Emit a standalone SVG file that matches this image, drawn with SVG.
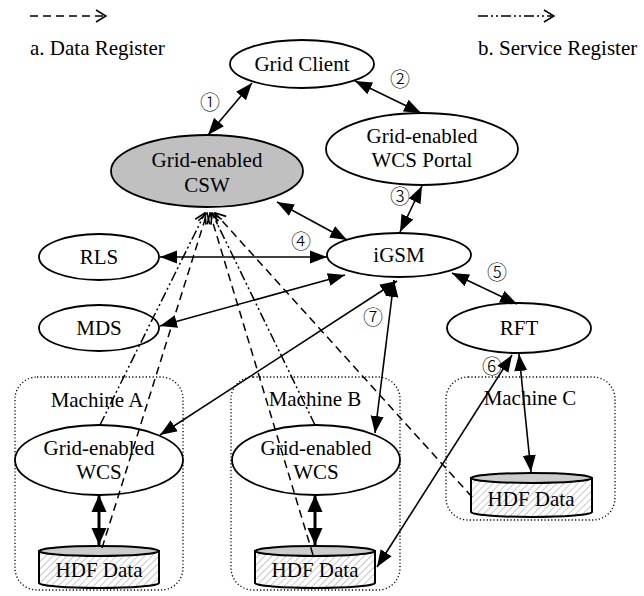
<svg xmlns="http://www.w3.org/2000/svg" width="644" height="596" viewBox="0 0 644 596" font-family="'Liberation Serif', 'DejaVu Serif', serif">
<style>
text{font-family:'Liberation Serif','DejaVu Serif',serif;font-size:21px;text-anchor:middle;fill:#000}
.lbl{text-anchor:start}
.num{font-family:'Noto Sans CJK JP','DejaVu Sans',sans-serif;font-size:20px;font-weight:300}
.node ellipse{fill:#fff;stroke:#000;stroke-width:1.8}
.box{fill:none;stroke:#000;stroke-width:1.3;stroke-dasharray:1.2 2.2}
.cylbody{fill:url(#hatch);stroke:#000;stroke-width:2}
.cyltop{fill:#cccccc;stroke:#000;stroke-width:2}
.solid{stroke:#000;stroke-width:1.6;fill:none;marker-start:url(#ah);marker-end:url(#ah)}
.thick{stroke:#000;stroke-width:3;fill:none;marker-start:url(#ahb);marker-end:url(#ahb)}
.dash{stroke:#000;stroke-width:1.5;fill:none;stroke-dasharray:8 5;marker-end:url(#open)}
.dashdot{stroke:#000;stroke-width:1.5;fill:none;stroke-dasharray:10 3 2 3 2 3;marker-end:url(#open)}
</style>
<defs>
<pattern id="hatch" width="5" height="5" patternUnits="userSpaceOnUse" patternTransform="rotate(45)">
<rect width="5" height="5" fill="#fff"/>
<line x1="0" y1="0" x2="0" y2="5" stroke="#b0b0b0" stroke-width="1.4"/>
</pattern>
<marker id="ah" markerUnits="userSpaceOnUse" markerWidth="18" markerHeight="14" viewBox="0 0 18 14" refX="17" refY="7" orient="auto-start-reverse">
<path d="M0,0.5 L17,7 L0,13.5 Z" fill="#000"/>
</marker>
<marker id="ahb" markerUnits="userSpaceOnUse" markerWidth="18" markerHeight="16" viewBox="0 0 18 16" refX="17" refY="8" orient="auto-start-reverse">
<path d="M0,0.5 L17,8 L0,15.5 Z" fill="#000"/>
</marker>
<marker id="open" markerUnits="userSpaceOnUse" markerWidth="12" markerHeight="14" viewBox="0 0 12 14" refX="11" refY="7" orient="auto">
<path d="M1,1 L11,7 L1,13" fill="none" stroke="#000" stroke-width="1.6"/>
</marker>
</defs>

<g id="legend">
<line class="dash" x1="30" y1="16" x2="106" y2="16"/>
<text class="lbl" x="30" y="55">a. Data Register</text>
<line class="dashdot" x1="478" y1="16" x2="554" y2="16"/>
<text class="lbl" x="478" y="55">b. Service Register</text>
</g>

<g id="machineA"><rect class="box" x="15" y="377" width="168" height="213" rx="22"/><text x="97" y="407">Machine A</text></g>
<g id="machineB"><rect class="box" x="231" y="377" width="169" height="213" rx="22"/><text x="315" y="406">Machine B</text></g>
<g id="machineC"><rect class="box" x="446" y="377" width="169" height="143" rx="22"/><text x="530" y="405">Machine C</text></g>

<g id="gridClient" class="node"><ellipse cx="302" cy="64" rx="72" ry="24"/><text x="302" y="71">Grid Client</text></g>
<g id="csw" class="node"><ellipse cx="207" cy="171" rx="96" ry="36" style="fill:#c0c0c0"/><text x="207" y="167">Grid-enabled</text><text x="207" y="192">CSW</text></g>
<g id="portal" class="node"><ellipse cx="422" cy="149" rx="96" ry="36"/><text x="422" y="143">Grid-enabled</text><text x="422" y="167">WCS Portal</text></g>
<g id="rls" class="node"><ellipse cx="99" cy="257" rx="60" ry="23"/><text x="99" y="264">RLS</text></g>
<g id="igsm" class="node"><ellipse cx="399" cy="255" rx="72" ry="22"/><text x="399" y="262">iGSM</text></g>
<g id="mds" class="node"><ellipse cx="99" cy="328" rx="60" ry="23"/><text x="99" y="335">MDS</text></g>
<g id="rft" class="node"><ellipse cx="519" cy="328" rx="72" ry="25"/><text x="519" y="335">RFT</text></g>
<g id="wcsA" class="node"><ellipse cx="99" cy="460" rx="84" ry="35"/><text x="99" y="455">Grid-enabled</text><text x="99" y="479">WCS</text></g>
<g id="wcsB" class="node"><ellipse cx="316" cy="460" rx="84" ry="35"/><text x="316" y="455">Grid-enabled</text><text x="316" y="479">WCS</text></g>

<g id="hdfA"><path class="cylbody" d="M39,551 V583 A60,5 0 0 0 159,583 V551 Z"/><ellipse class="cyltop" cx="99" cy="551" rx="60" ry="5"/><text x="99" y="577">HDF Data</text></g>
<g id="hdfB"><path class="cylbody" d="M255,551 V583 A60,5 0 0 0 375,583 V551 Z"/><ellipse class="cyltop" cx="315" cy="551" rx="60" ry="5"/><text x="315" y="577">HDF Data</text></g>
<g id="hdfC"><path class="cylbody" d="M471,478 V512 A60.5,5 0 0 0 592,512 V478 Z"/><ellipse class="cyltop" cx="531.5" cy="478" rx="60.5" ry="5"/><text x="531" y="506">HDF Data</text></g>

<g id="connectors">
<line class="solid" x1="252" y1="83" x2="208" y2="135"/>
<line class="solid" x1="355" y1="81" x2="421" y2="113"/>
<line class="solid" x1="422" y1="186" x2="400" y2="232"/>
<line class="solid" x1="277" y1="202" x2="347" y2="240"/>
<line class="solid" x1="160" y1="257" x2="327" y2="257"/>
<line class="solid" x1="160" y1="326" x2="345" y2="275"/>
<line class="solid" x1="452" y1="273" x2="517" y2="304"/>
<line class="solid" x1="160" y1="435" x2="397" y2="281"/>
<line class="solid" x1="375" y1="433" x2="394" y2="280"/>
<line class="solid" x1="377" y1="567" x2="512" y2="355"/>
<line class="solid" x1="519" y1="354" x2="531" y2="472"/>
<line class="thick" x1="99" y1="495" x2="99" y2="545"/>
<line class="thick" x1="315" y1="495" x2="315" y2="545"/>
<line class="dash" x1="102" y1="548" x2="207" y2="213"/>
<line class="dashdot" x1="100" y1="425" x2="205" y2="213"/>
<line class="dash" x1="313" y1="555" x2="210" y2="213"/>
<line class="dashdot" x1="315" y1="425" x2="212" y2="213"/>
<line class="dash" x1="472" y1="497" x2="215" y2="213"/>
</g>

<g id="labels">
<text class="num" x="210" y="110">①</text>
<text class="num" x="400" y="87">②</text>
<text class="num" x="400" y="204">③</text>
<text class="num" x="301" y="249">④</text>
<text class="num" x="497" y="280">⑤</text>
<text class="num" x="492" y="374">⑥</text>
<text class="num" x="373" y="325">⑦</text>
</g>
</svg>
